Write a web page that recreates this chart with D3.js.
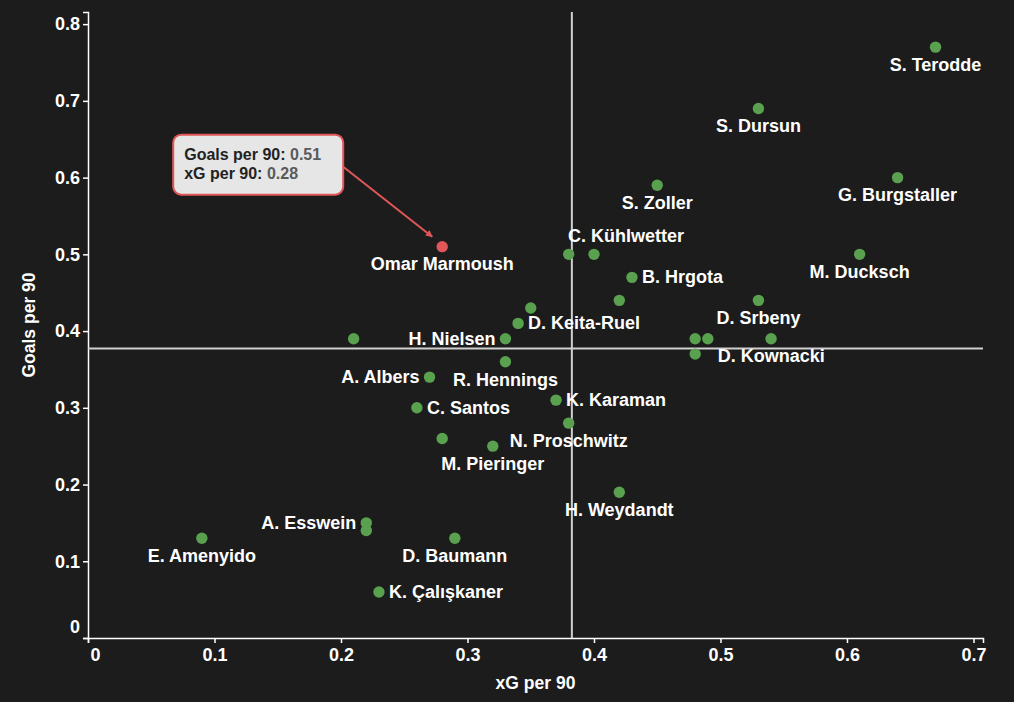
<!DOCTYPE html>
<html>
<head>
<meta charset="utf-8">
<script src="https://cdn.jsdelivr.net/npm/d3@7"></script>
<style>
  html, body { margin: 0; padding: 0; background: #1c1c1c; }
  svg { display: block; }
  text { font-family: "Liberation Sans", Arial, sans-serif; font-weight: bold; }
</style>
</head>
<body>
<svg id="chart" width="1014" height="702"></svg>
<script>
// ---- data ----
const players = ["S. Terodde","S. Dursun","G. Burgstaller","S. Zoller","M. Ducksch","",
  "C. Kühlwetter","B. Hrgota","","D. Srbeny","","D. Kownacki","","","",
  "D. Keita-Ruel","H. Nielsen","","R. Hennings","A. Albers","C. Santos","K. Karaman",
  "N. Proschwitz","","M. Pieringer","H. Weydandt","A. Esswein","","D. Baumann",
  "E. Amenyido","K. Çalışkaner","Omar Marmoush"];
const xgPer90 = [0.67,0.53,0.64,0.45,0.61,0.38,0.40,0.43,0.42,0.53,0.48,0.49,0.54,0.48,0.35,
  0.34,0.33,0.21,0.33,0.27,0.26,0.37,0.38,0.28,0.32,0.42,0.22,0.22,0.29,0.09,0.23,0.28];
const goalsPer90 = [0.77,0.69,0.60,0.59,0.50,0.50,0.50,0.47,0.44,0.44,0.39,0.39,0.39,0.37,0.43,
  0.41,0.39,0.39,0.36,0.34,0.30,0.31,0.28,0.26,0.25,0.19,0.15,0.14,0.13,0.13,0.06,0.51];
const highlighted = "Omar Marmoush";
const xTitle = "xG per 90";
const yTitle = "Goals per 90";

// ---- label layout (placement of each name relative to its point) ----
const labelPlacement = ["below","below","below","below","below","",
  "aboveRight","right","","below","","belowRight","","","",
  "right","left","","below","left","right","right",
  "below","","below","below","left","","below",
  "below","right","below"];

const W = 1014, H = 702;
const margin = {top: 12, right: 31, bottom: 64, left: 88};
const svg = d3.select("#chart");
svg.append("rect").attr("width", W).attr("height", H).attr("fill", "#1c1c1c");

const pts = players.map((p, i) => ({name: p, x: xgPer90[i], y: goalsPer90[i], place: labelPlacement[i]}));

const x = d3.scaleLinear().domain([0, d3.max(xgPer90) * 1.056]).range([margin.left, W - margin.right]);
const y = d3.scaleLinear().domain([0, d3.max(goalsPer90) * 1.0595]).range([H - margin.bottom, margin.top]);

const fmt = d => d === 0 ? "0" : d3.format(".1f")(d);

const gx = svg.append("g").attr("transform", `translate(0,${H - margin.bottom})`)
  .call(d3.axisBottom(x).ticks(8).tickFormat(fmt).tickSize(5).tickPadding(5));
const gy = svg.append("g").attr("transform", `translate(${margin.left},0)`)
  .call(d3.axisLeft(y).ticks(8).tickFormat(fmt).tickSize(5).tickPadding(3));
[gx, gy].forEach(g => {
  g.select(".domain").attr("stroke", "#fff").attr("stroke-width", 1.5);
  g.selectAll(".tick line").attr("stroke", "#fff").attr("stroke-width", 1.5);
  g.selectAll(".tick text").attr("fill", "#fff").style("font-size", "18px").style("font-family", "Liberation Sans, Arial, sans-serif").style("font-weight", "bold");
});
gx.selectAll(".tick text").filter(d => d === 0).attr("dx", 7);
gy.selectAll(".tick text").filter(d => d === 0).attr("dy", "-0.28em");

// axis titles
svg.append("text").attr("x", (margin.left + W - margin.right) / 2).attr("y", 689)
  .attr("text-anchor", "middle").attr("fill", "#fff").style("font-size", "17.5px").text(xTitle);
svg.append("text").attr("transform", `translate(35,${(margin.top + H - margin.bottom) / 2}) rotate(-90)`)
  .attr("text-anchor", "middle").attr("fill", "#fff").style("font-size", "17.5px").text(yTitle);

// mean lines
const mx = d3.mean(xgPer90), my = d3.mean(goalsPer90);
svg.append("line").attr("x1", x(mx)).attr("x2", x(mx)).attr("y1", margin.top).attr("y2", H - margin.bottom)
  .attr("stroke", "#d0d0d0").attr("stroke-width", 2);
svg.append("line").attr("x1", margin.left).attr("x2", W - margin.right).attr("y1", y(my)).attr("y2", y(my))
  .attr("stroke", "#d0d0d0").attr("stroke-width", 2);

// points
svg.append("g").selectAll("circle").data(pts).join("circle")
  .attr("cx", d => x(d.x)).attr("cy", d => y(d.y)).attr("r", 5.7)
  .attr("fill", d => d.name === highlighted ? "#e15759" : "#59a14f");

// labels
const off = {
  below: [0, 17.5, "middle"], right: [10, -0.5, "start"], left: [-10, -0.5, "end"],
  aboveRight: [32, -18.5, "middle"], belowRight: [10, 16.5, "start"]
};
svg.append("g").selectAll("text").data(pts.filter(d => d.name)).join("text")
  .attr("x", d => x(d.x) + off[d.place][0]).attr("y", d => y(d.y) + off[d.place][1])
  .attr("dy", "0.35em").attr("text-anchor", d => off[d.place][2])
  .attr("fill", "#fff").style("font-size", "18px").text(d => d.name);

// annotation for highlighted player
const h = pts.find(d => d.name === highlighted);
const hx = x(h.x), hy = y(h.y);
svg.append("defs").append("marker").attr("id", "arr").attr("viewBox", "0 0 10 10")
  .attr("refX", 9).attr("refY", 5).attr("markerWidth", 7).attr("markerHeight", 7)
  .attr("orient", "auto-start-reverse").attr("markerUnits", "userSpaceOnUse")
  .append("path").attr("d", "M0,0 L10,5 L0,10 z").attr("fill", "#e15759");
svg.append("line").attr("x1", hx - 99).attr("y1", hy - 80).attr("x2", hx - 10).attr("y2", hy - 10)
  .attr("stroke", "#e15759").attr("stroke-width", 2).attr("marker-end", "url(#arr)");
svg.append("rect").attr("x", hx - 269).attr("y", hy - 112).attr("width", 170).attr("height", 60)
  .attr("rx", 8).attr("fill", "#e6e6e6").attr("stroke", "#e15759").attr("stroke-width", 2);
const t1 = svg.append("text").attr("x", hx - 258).attr("y", hy - 87).style("font-size", "16px").attr("fill", "#222");
t1.append("tspan").text(yTitle + ": ");
t1.append("tspan").attr("fill", "#5a5a5a").text(d3.format(".2f")(h.y));
const t2 = svg.append("text").attr("x", hx - 258).attr("y", hy - 68).style("font-size", "16px").attr("fill", "#222");
t2.append("tspan").text(xTitle + ": ");
t2.append("tspan").attr("fill", "#5a5a5a").text(d3.format(".2f")(h.x));
</script>
</body>
</html>
